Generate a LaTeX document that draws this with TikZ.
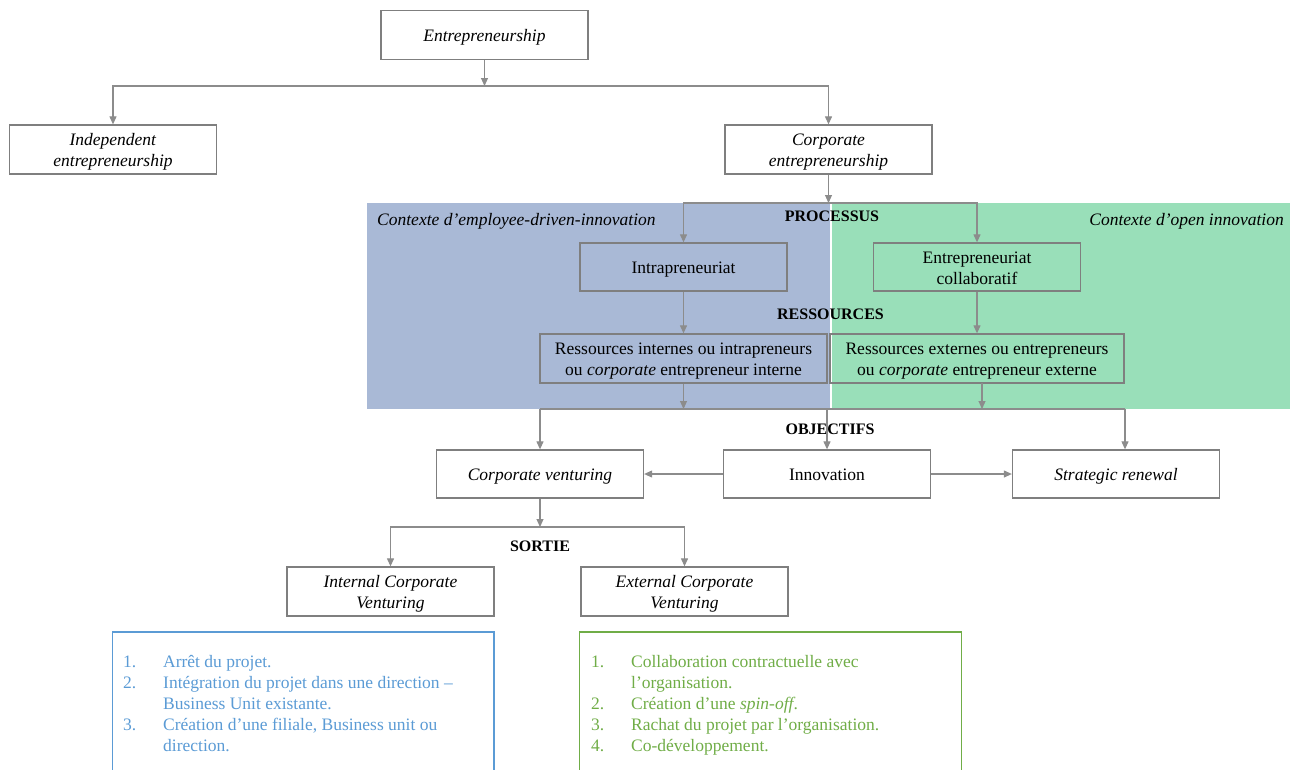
\documentclass[tikz,border=0pt]{standalone}
\usepackage{fontspec}
\setmainfont{Liberation Serif}
\usetikzlibrary{arrows.meta}
\definecolor{boxgray}{RGB}{127,127,127}
\definecolor{lngray}{RGB}{140,140,140}
\definecolor{regblue}{RGB}{169,185,214}
\definecolor{reggreen}{RGB}{153,223,185}
\definecolor{lblue}{RGB}{91,155,213}
\definecolor{lgreen}{RGB}{112,173,71}
\begin{document}
\begin{tikzpicture}[x=1pt,y=-1pt,
  box/.style={draw=boxgray, line width=1.3pt, minimum width=207pt, minimum height=49pt,
    inner sep=0pt, align=center, font=\fontsize{17.5}{21}\selectfont,
    text height=18pt, text depth=4.5pt},
  two/.style={text height=39pt, text depth=5pt},
  ln/.style={draw=lngray, line width=1.1pt},
  arr/.style={ln, -{Triangle[width=7pt,length=8pt]}},
  lab/.style={font=\fontsize{16}{19}\selectfont\bfseries, inner sep=0pt},
  ctx/.style={font=\fontsize{17.5}{21}\selectfont\itshape, inner sep=0pt},
  lst/.style={font=\fontsize{17.5}{21}\selectfont, inner sep=0pt, anchor=base west}
]
\useasboundingbox (0,0) rectangle (1290,769);
% context regions
\fill[regblue] (367,203) rectangle (830,409);
\fill[reggreen] (831.5,203) rectangle (1290,409);

% boxes
\node[box] (ent) at (484.5,35) {\textit{Entrepreneurship}};
\node[box, two] (ind) at (113,149.5) {\textit{Independent}\\\textit{entrepreneurship}};
\node[box, two] (corp) at (828.5,149.5) {\textit{Corporate}\\\textit{entrepreneurship}};
\node[box, minimum height=48pt] (intra) at (683.5,267) {Intrapreneuriat};
\node[box, two, minimum height=48pt] (collab) at (977,267) {Entrepreneuriat\\collaboratif};
\node[box, two, minimum width=287pt] (rint) at (683.5,358.5) {Ressources internes ou intrapreneurs\\ou \textit{corporate} entrepreneur interne};
\node[box, two, minimum width=294pt] (rext) at (977,358.5) {Ressources externes ou entrepreneurs\\ou \textit{corporate} entrepreneur externe};
\node[box, minimum height=48pt] (cv) at (540,474) {\textit{Corporate venturing}};
\node[box, minimum height=48pt] (innov) at (827,474) {Innovation};
\node[box, minimum height=48pt] (sr) at (1116,474) {\textit{Strategic renewal}};
\node[box, two] (icv) at (390.5,591.5) {\textit{Internal Corporate}\\\textit{Venturing}};
\node[box, two] (ecv) at (684.5,591.5) {\textit{External Corporate}\\\textit{Venturing}};

% labels
\node[ctx, anchor=west] (ctxb) at (377,221) {Contexte d’employee-driven-innovation};
\node[ctx, anchor=east] (ctxg) at (1284,221) {Contexte d’open innovation};
\node[lab] (proc) at (832,216) {PROCESSUS};
\node[lab] (ress) at (830.5,314) {RESSOURCES};
\node[lab] (obj) at (830,429) {OBJECTIFS};
\node[lab] (sort) at (540,546) {SORTIE};

% connectors
\coordinate (s1) at (ent.south |- 0,86);
\draw[arr] (ent.south) -- (s1);
\draw[arr] (s1) -| (ind.north);
\draw[arr] (s1) -| (corp.north);
\coordinate (s2) at (corp.south |- 0,203);
\draw[arr] (corp.south) -- (s2);
\draw[arr] (s2) -| (intra.north);
\draw[arr] (s2) -| (collab.north);
\draw[arr] (intra.south) -- (rint.north);
\draw[arr] (collab.south) -- (rext.north);
\coordinate (o1) at (rint.south |- 0,409);
\coordinate (o2) at (982,409);
\coordinate (o3) at (1125,409);
\coordinate (o4) at (cv.north |- 0,409);
\coordinate (o5) at (innov.north |- 0,409);
\draw[arr] (rint.south) -- (o1);
\draw[arr] (982,383) -- (o2);
\draw[ln] (o4) -- (o3);
\draw[arr] (o4) -- (cv.north);
\draw[arr] (o5) -- (innov.north);
\draw[arr] (o3) -- (o3 |- sr.north);
\draw[arr] (innov.west) -- (cv.east);
\draw[arr] (innov.east) -- (sr.west);
\coordinate (s3) at (cv.south |- 0,527);
\draw[arr] (cv.south) -- (s3);
\draw[arr] (s3) -| (icv.north);
\draw[arr] (s3) -| (ecv.north);

% list boxes
\draw[draw=lblue, line width=1.3pt] (112.5,632) rectangle (494,775);
\draw[draw=lgreen, line width=1.3pt] (579.5,632) rectangle (961.5,775);
\node[lst, text=lblue] (blist) at (123,667) {\begin{tabular}[t]{@{}p{40pt}@{}l@{}}
1. & Arrêt du projet.\\
2. & Intégration du projet dans une direction –\\
   & Business Unit existante.\\
3. & Création d’une filiale, Business unit ou\\
   & direction.
\end{tabular}};
\node[lst, text=lgreen] (glist) at (591,667) {\begin{tabular}[t]{@{}p{40pt}@{}l@{}}
1. & Collaboration contractuelle avec\\
   & l’organisation.\\
2. & Création d’une \textit{spin-off}.\\
3. & Rachat du projet par l’organisation.\\
4. & Co-développement.
\end{tabular}};
\end{tikzpicture}
\end{document}
